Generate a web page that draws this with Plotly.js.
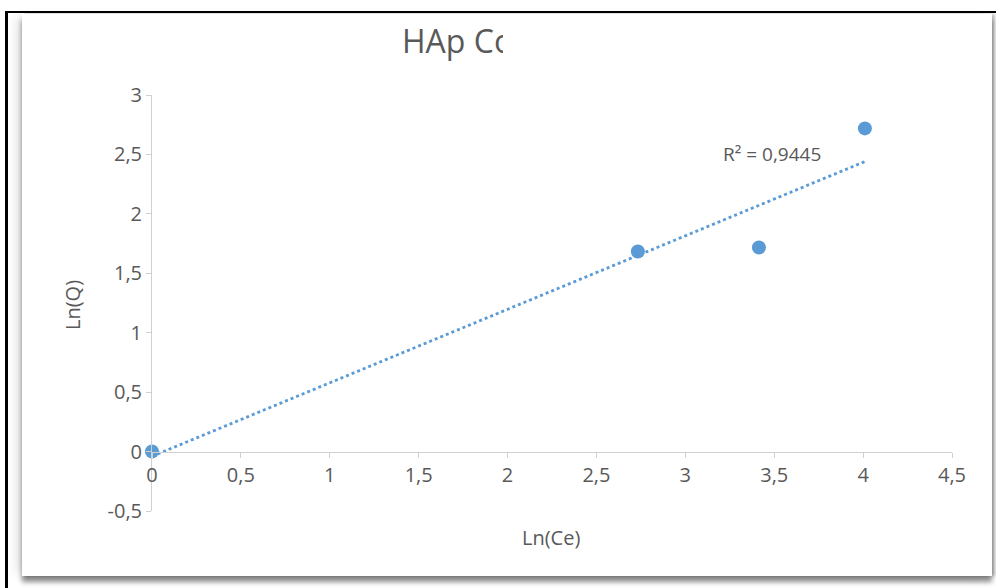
<!DOCTYPE html>
<html>
<head>
<meta charset="utf-8">
<script src="https://cdn.plot.ly/plotly-3.0.1.min.js"></script>
<style>
  html, body { margin: 0; padding: 0; background: #ffffff; width: 996px; height: 588px; overflow: hidden; }
  #frame { position: absolute; left: 5px; top: 11px; width: 991px; height: 577px; box-sizing: border-box;
           border-top: 2px solid #000; border-left: 3px solid #000; }
  #card { position: absolute; left: 22px; top: 14px; width: 970px; height: 562px; background: #fff;
          box-shadow: 0 6px 5px rgba(0,0,0,0.45), -9px 0 10px -3px rgba(0,0,0,0.10), 3px 0 3px rgba(0,0,0,0.25); }
  #chart { position: absolute; left: 0; top: 0; width: 996px; height: 588px; }
  #clip { position: absolute; left: 503px; top: 18px; width: 70px; height: 50px; background: #fff; }
</style>
</head>
<body>
<div id="frame"></div>
<div id="card"></div>
<div id="chart"></div>
<div id="clip"></div>
<script>
// Data
const lnCe = [0, 2.733, 3.414, 4.01];
const lnQ  = [0, 1.683, 1.717, 2.719];
// Linear trendline end points (as drawn)
const trendX = [0, 4.01];
const trendY = [-0.04, 2.44];
const rSquaredLabel = 'R² = 0,9445';
const titleText = 'HAp Co';
const xTicks = [0, 0.5, 1, 1.5, 2, 2.5, 3, 3.5, 4, 4.5];
const xTickText = ['0', '0,5', '1', '1,5', '2', '2,5', '3', '3,5', '4', '4,5'];
const yTicks = [-0.5, 0, 0.5, 1, 1.5, 2, 2.5, 3];
const yTickText = ['-0,5', '0', '0,5', '1', '1,5', '2', '2,5', '3'];

const blue = '#5b9bd5';
const textGrey = '#595959';
const axisGrey = '#d0d0d0';
const fontFam = '"Open Sans", "Noto Sans", sans-serif';

const yRange = [-0.5, 3];
const xRange = [0, 4.5];

const traces = [
  {
    x: trendX, y: trendY, type: 'scatter', mode: 'lines',
    line: { color: blue, width: 2.8, dash: 'dot' },
    hoverinfo: 'skip', cliponaxis: false
  },
  {
    x: lnCe, y: lnQ, type: 'scatter', mode: 'markers',
    marker: { color: blue, size: 14 },
    cliponaxis: false
  }
];

const layout = {
  width: 996, height: 588,
  margin: { l: 152, r: 44, t: 95, b: 77 },
  paper_bgcolor: 'rgba(0,0,0,0)',
  plot_bgcolor: 'rgba(0,0,0,0)',
  separators: ',.',
  showlegend: false,
  font: { family: fontFam, color: textGrey },
  title: {
    text: titleText, xref: 'paper', x: (402 - 152) / 800, xanchor: 'left',
    yref: 'container', y: 1 - 42 / 588, yanchor: 'middle',
    font: { family: fontFam, size: 32, color: textGrey }
  },
  xaxis: {
    range: xRange, anchor: 'free',
    position: (0 - yRange[0]) / (yRange[1] - yRange[0]),
    tickmode: 'array', tickvals: xTicks, ticktext: xTickText,
    showgrid: false, zeroline: false,
    showline: true, linecolor: axisGrey, linewidth: 1,
    ticks: 'outside', ticklen: 5, tickcolor: axisGrey,
    tickfont: { family: fontFam, size: 20, color: textGrey }
  },
  yaxis: {
    range: yRange, anchor: 'x',
    tickmode: 'array', tickvals: yTicks, ticktext: yTickText,
    showgrid: false, zeroline: false,
    showline: true, linecolor: axisGrey, linewidth: 1,
    ticks: 'outside', ticklen: 5, tickcolor: axisGrey,
    tickfont: { family: fontFam, size: 20, color: textGrey }
  },
  annotations: [
    { text: rSquaredLabel, xref: 'paper', yref: 'paper',
      x: (772 - 152) / 800, y: (511 - 154) / 416, xanchor: 'center', yanchor: 'middle',
      showarrow: false, font: { family: fontFam, size: 19, color: textGrey } },
    { text: 'Ln(Ce)', xref: 'paper', yref: 'paper',
      x: (551 - 152) / 800, y: (511 - 537) / 416, xanchor: 'center', yanchor: 'middle',
      showarrow: false, font: { family: fontFam, size: 20, color: textGrey } },
    { text: 'Ln(Q)', xref: 'paper', yref: 'paper',
      x: (72 - 152) / 800, y: (511 - 305) / 416, xanchor: 'center', yanchor: 'middle',
      textangle: -90, showarrow: false, font: { family: fontFam, size: 20, color: textGrey } }
  ]
};

Plotly.newPlot('chart', traces, layout, { displayModeBar: false, staticPlot: true });
</script>
</body>
</html>
